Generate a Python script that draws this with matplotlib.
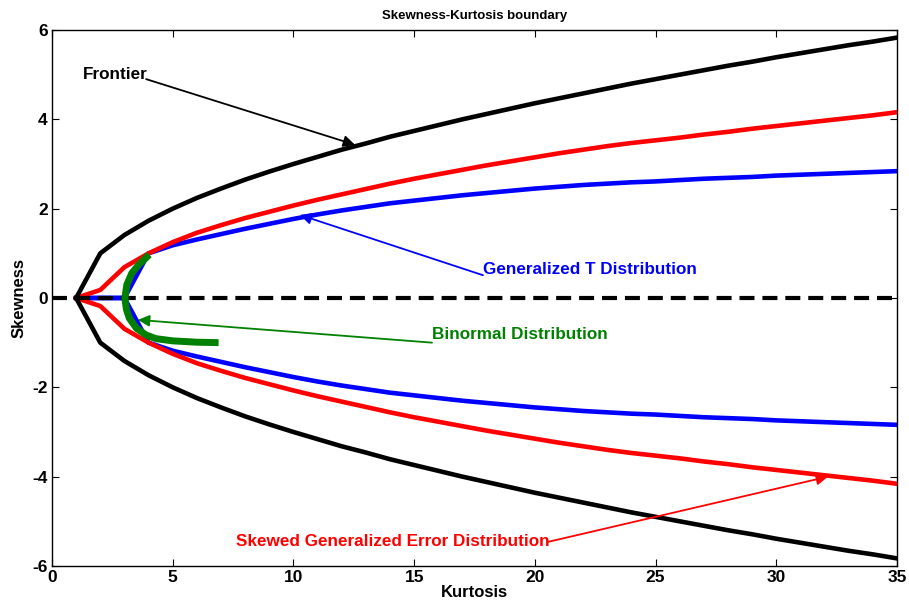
import matplotlib.pyplot as plt
import numpy as np

# ---- data ----
kurt = list(range(1, 36))

frontier_skew = [0.0, 1.0, 1.41, 1.73, 2.0, 2.24, 2.45, 2.65, 2.83, 3.0,
                 3.16, 3.32, 3.46, 3.61, 3.74, 3.87, 4.0, 4.12, 4.24, 4.36,
                 4.47, 4.58, 4.69, 4.80, 4.90, 5.0, 5.10, 5.20, 5.29, 5.39,
                 5.48, 5.57, 5.66, 5.74, 5.83]

sged_skew = [0.0, 0.18, 0.69, 1.0, 1.25, 1.46, 1.63, 1.79, 1.93, 2.07,
             2.2, 2.32, 2.44, 2.56, 2.67, 2.77, 2.87, 2.97, 3.06, 3.15,
             3.24, 3.32, 3.40, 3.47, 3.53, 3.59, 3.66, 3.72, 3.79, 3.85,
             3.91, 3.97, 4.03, 4.09, 4.16]

gt_skew = [0.0, 0.0, 0.0, 1.0, 1.18, 1.31, 1.43, 1.55, 1.66, 1.77,
           1.87, 1.96, 2.04, 2.12, 2.18, 2.24, 2.30, 2.35, 2.40, 2.45,
           2.49, 2.53, 2.56, 2.59, 2.61, 2.64, 2.67, 2.69, 2.71, 2.74,
           2.76, 2.78, 2.80, 2.82, 2.84]

binormal_kurt = [4.03, 3.6, 3.3, 3.1, 3.02, 3.08, 3.2, 3.5, 3.9, 4.3, 5.0, 6.0, 6.9]
binormal_skew = [0.97, 0.75, 0.55, 0.3, 0.0, -0.25, -0.45, -0.68, -0.83, -0.91, -0.96, -0.99, -1.0]

zero_kurt = [0, 35]
zero_skew = [0, 0]

xticks = [0, 5, 10, 15, 20, 25, 30, 35]
yticks = [-6, -4, -2, 0, 2, 4, 6]

# annotation text, anchor (text) and arrow tip, in data units
annotations = [
    ("Frontier", "black", (1.28, 5.0), (3.9, 4.9), (12.55, 3.43)),
    ("Generalized T Distribution", "#0000ff", (17.85, 0.63), (17.85, 0.51), (10.27, 1.86)),
    ("Binormal Distribution", "#008000", (15.74, -0.81), (15.74, -1.0), (3.56, -0.49)),
    ("Skewed Generalized Error Distribution", "#ff0000", (7.62, -5.46), (20.55, -5.46), (32.14, -4.0)),
]

plt.rcParams.update({
    "font.family": ["Liberation Sans", "DejaVu Sans"],
    "font.weight": "bold",
    "font.size": 12,
    "axes.labelweight": "bold",
    "axes.titleweight": "bold",
    "axes.unicode_minus": False,
})


def main() -> None:
    fig = plt.figure(figsize=(9.09, 6.0), dpi=100)
    ax = fig.add_axes([0.0572, 0.0567, 0.9296, 0.8933])

    k = np.array(kurt)
    lw = 3.3
    ax.plot(k, gt_skew, color="#0000ff", lw=lw, zorder=2)
    ax.plot(k, -np.array(gt_skew), color="#0000ff", lw=lw, zorder=2)
    ax.plot(k, sged_skew, color="#ff0000", lw=lw, zorder=3)
    ax.plot(k, -np.array(sged_skew), color="#ff0000", lw=lw, zorder=3)
    ax.plot(k, frontier_skew, color="black", lw=lw, zorder=3)
    ax.plot(k, -np.array(frontier_skew), color="black", lw=lw, zorder=3)
    ax.plot(zero_kurt, zero_skew, color="black", lw=3.0, dashes=(3.6, 1.9), zorder=4)
    ax.plot(binormal_kurt, binormal_skew, color="#008000", lw=5.0,
            solid_capstyle="butt", zorder=5)

    for label, col, txt_xy, start, tip in annotations:
        ax.annotate("", xy=tip, xytext=start,
                    arrowprops=dict(arrowstyle="-|>", color=col, lw=1.3,
                                    mutation_scale=17, shrinkA=0, shrinkB=0),
                    zorder=6)
        ax.text(txt_xy[0], txt_xy[1], label, color=col, fontsize=12.3,
                fontweight="bold", ha="left", va="center", zorder=7)

    ax.set_xlim(0, 35)
    ax.set_ylim(-6, 6)
    ax.set_xticks(xticks)
    ax.set_yticks(yticks)
    ax.tick_params(direction="in", length=5, width=0.8, top=True, right=True,
                   labelsize=12.5, pad=3)
    for lab in ax.get_xticklabels() + ax.get_yticklabels():
        lab.set_fontweight("bold")
    for spine in ax.spines.values():
        spine.set_linewidth(1.0)

    ax.set_title("Skewness-Kurtosis boundary", fontsize=9.5, pad=8)
    ax.set_xlabel("Kurtosis", fontsize=12, labelpad=0)
    ax.set_ylabel("Skewness", fontsize=12, labelpad=4)

    fig.savefig("out.png", dpi=100)
    plt.close(fig)


if __name__ == "__main__":
    main()
